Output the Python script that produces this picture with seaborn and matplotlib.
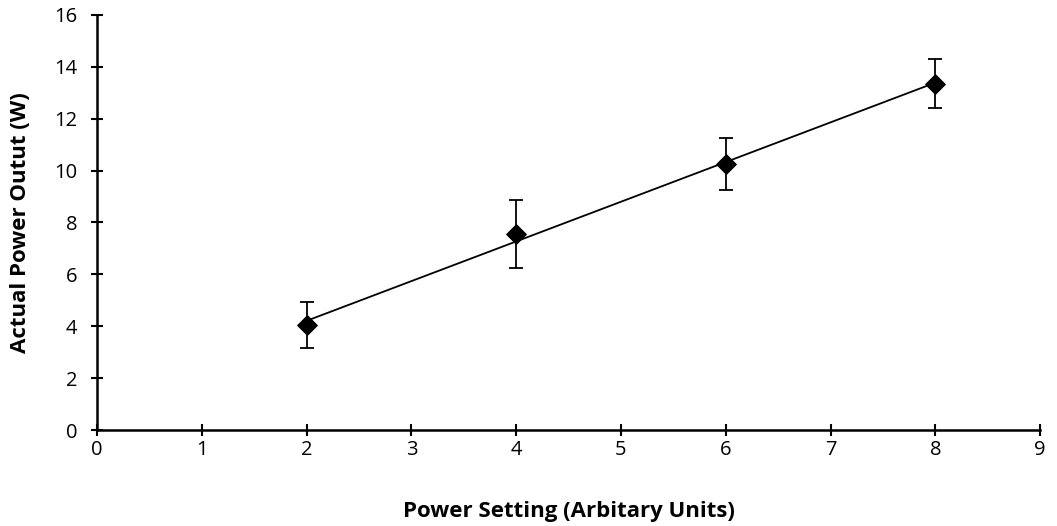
import numpy as np
import pandas as pd
import matplotlib
matplotlib.use("Agg")
import matplotlib.pyplot as plt
import seaborn as sns

# datos
power_setting = [2, 4, 6, 8]
power_output = [4.05, 7.55, 10.25, 13.35]
output_error = [0.9, 1.3, 1.0, 0.95]

df = pd.DataFrame({"setting": power_setting, "output": power_output, "err": output_error})

sns.set_style("ticks")
plt.rcParams["font.family"] = ["Open Sans", "DejaVu Sans"]
plt.rcParams["text.color"] = "black"
plt.rcParams["axes.labelcolor"] = "black"
plt.rcParams["xtick.color"] = "black"
plt.rcParams["ytick.color"] = "black"

fig = plt.figure(figsize=(10.57, 5.26), dpi=100)
ax = fig.add_axes([0.0918, 0.1825, 0.8922, 0.789])

# linea de tendencia lineal
sns.regplot(x="setting", y="output", data=df, ax=ax, ci=None, scatter=False,
            truncate=True, color="black", line_kws={"linewidth": 1.3})

ax.errorbar(df["setting"], df["output"], yerr=df["err"], fmt="none",
            ecolor="black", elinewidth=1.3, capsize=5, capthick=1.3, zorder=3)
sns.scatterplot(x="setting", y="output", data=df, ax=ax, marker="D", s=100,
                color="black", edgecolor="black", zorder=4)

ax.set_xlim(0, 9)
ax.set_ylim(0, 16)
ax.set_xticks(range(0, 10))
ax.set_yticks(range(0, 17, 2))
ax.tick_params(direction="inout", length=8, width=1.5, labelsize=14.5)
ax.tick_params(axis="y", pad=10)
ax.tick_params(axis="x", pad=3)

for s in ["top", "right"]:
    ax.spines[s].set_visible(False)
for s in ["left", "bottom"]:
    ax.spines[s].set_linewidth(1.8)
    ax.spines[s].set_color("black")

ax.set_xlabel("Power Setting (Arbitary Units)", fontsize=16, fontweight="bold", labelpad=30)
ax.set_ylabel("Actual Power Outut (W)", fontsize=16, fontweight="bold", labelpad=17)

fig.savefig("out.png", dpi=100)
